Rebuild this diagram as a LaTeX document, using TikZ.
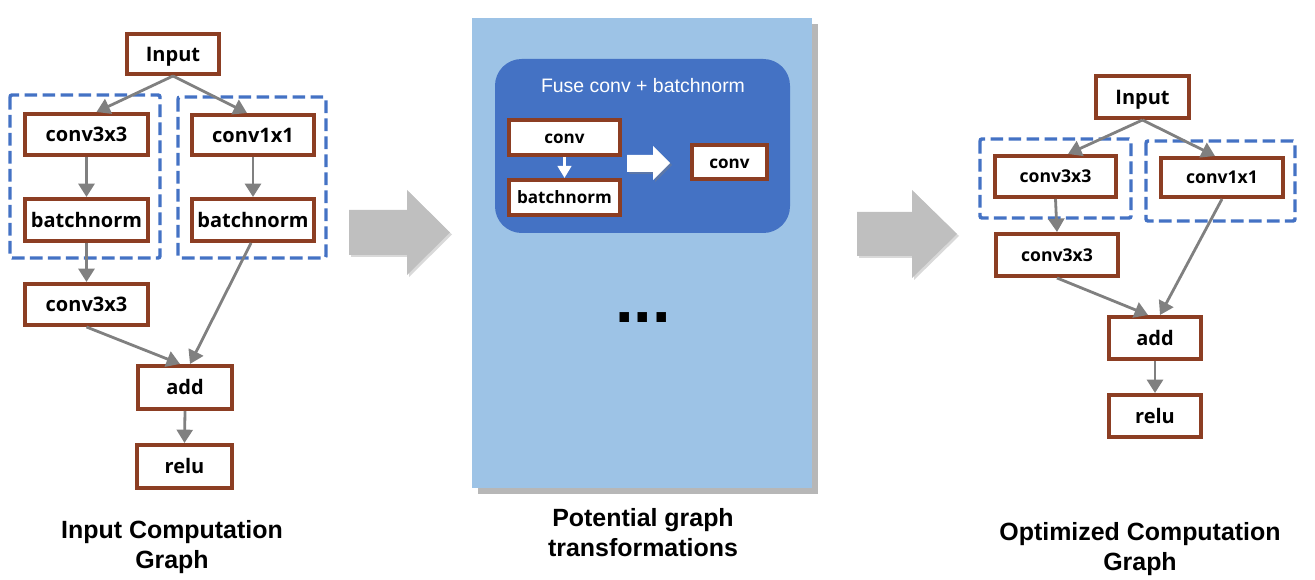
\documentclass[tikz,border=0pt]{standalone}
\usepackage{fontspec}
\setmainfont{Liberation Sans}
\newfontfamily\lblf{Open Sans}
\usetikzlibrary{arrows.meta,shadows}
\definecolor{brownc}{RGB}{140,62,35}
\definecolor{dashblue}{RGB}{68,114,196}
\definecolor{innerblue}{RGB}{68,114,196}
\definecolor{panelblue}{RGB}{157,195,230}
\definecolor{edgegray}{RGB}{128,128,128}
\definecolor{blockgray}{RGB}{191,191,191}
\newcommand\pbox[7]{\node[#7, minimum width={(#4-#2-4)*0.75pt}, minimum height={(#5-#3-4)*0.75pt}] (#1) at ({(#2+#4)/2},{(#3+#5)/2}) {#6};}
\begin{document}
\begin{tikzpicture}[x=0.75pt,y=-0.75pt,
  box/.style={draw=brownc, line width=3pt, fill=white, inner sep=0pt, text height=10.7pt, text depth=0pt, font=\lblf\bfseries\fontsize{15}{18}\selectfont},
  boxr/.style={box, text height=9.4pt, font=\lblf\bfseries\fontsize{13.2}{16}\selectfont},
  boxm/.style={box, text height=9.1pt, font=\lblf\bfseries\fontsize{12.8}{15}\selectfont},
  grp/.style={draw=dashblue, line width=2.6pt, dash pattern=on 9.5pt off 4pt, rounded corners=1.5pt},
  edge/.style={draw=edgegray, line width=2.1pt, -{Triangle[length=10pt,width=12pt]}},
  wedge/.style={draw=white, line width=2.4pt, -{Triangle[length=9pt,width=10pt]}},
  captext/.style={font=\bfseries\fontsize{18.7}{22.5}\selectfont, align=center, inner sep=0pt},
  blockarrow/.style={fill=blockgray, drop shadow={shadow xshift=1.5pt, shadow yshift=-1.5pt, opacity=0.3}}
]
\useasboundingbox (0,0) rectangle (1315,580);

% ---------- Left graph ----------
\draw[grp] (10,95) rectangle (160,258);
\draw[grp] (178,97) rectangle (326,258);
\pbox{lin}{125}{32}{221}{76}{Input}{box}
\pbox{lc3}{23}{112}{150}{157}{conv3x3}{box}
\pbox{lbn1}{23}{197}{150}{243}{batchnorm}{box}
\pbox{lc1}{190}{113}{316}{157}{conv1x1}{box}
\pbox{lbn2}{190}{197}{316}{243}{batchnorm}{box}
\pbox{lc3b}{23}{282}{150}{327}{conv3x3}{box}
\pbox{ladd}{136}{364}{234}{411}{add}{box}
\pbox{lrelu}{135}{443}{234}{490}{relu}{box}
\draw[edge] (lin.south) -- ([xshift=7.5pt]lc3.north);
\draw[edge] (lin.south) -- ([xshift=-4.5pt]lc1.north);
\draw[edge] (lc3.south) -- (lbn1.north);
\draw[edge] (lc1.south) -- (lbn2.north);
\draw[edge] (lbn1.south) -- (lc3b.north);
\draw[edge] (lc3b.south) -- ([xshift=-3.75pt]ladd.north);
\draw[edge] ([xshift=-1.5pt]lbn2.south) -- ([xshift=3.75pt]ladd.north);
\draw[edge] (ladd.south) -- (lrelu.north);
\node[captext] (lcap) at (172,547.5) {Input Computation\\Graph};

% ---------- Block arrows ----------
\path[blockarrow] (349,210) -- (407,210) -- (407,190) -- (450,232.5) -- (407,275) -- (407,255) -- (349,255) -- cycle;
\path[blockarrow] (857,212) -- (912,212) -- (912,190) -- (957,234) -- (912,278) -- (912,256) -- (857,256) -- cycle;

% ---------- Middle panel ----------
\path[fill=panelblue, drop shadow={shadow xshift=4.5pt, shadow yshift=-4.5pt, opacity=0.4, fill=black!70}] (472,18) rectangle (812,488);
\path[fill=innerblue, rounded corners=20pt] (495,59) rectangle (790,233);
\node[text=white, font=\fontsize{14.6}{17}\selectfont, inner sep=0pt] (fuse) at (643,86) {Fuse conv + batchnorm};
\pbox{mconv}{507}{118}{622}{157}{conv}{boxm}
\pbox{mbn}{507}{178}{622}{217}{batchnorm}{boxm}
\pbox{mconv2}{690}{143}{769}{181}{conv}{boxm}
\draw[wedge] (mconv.south) -- (mbn.north);
\path[fill=white, drop shadow={shadow xshift=1.5pt, shadow yshift=-1.5pt, opacity=0.4}] (627,155) -- (653,155) -- (653,146) -- (670,163) -- (653,180) -- (653,172) -- (627,172) -- cycle;
\node[font=\bfseries\fontsize{50}{55}\selectfont, inner sep=0pt, anchor=base] (dots) at (643,323) {...};
\node[captext] (mcap) at (643,533) {Potential graph\\transformations};

% ---------- Right graph ----------
\draw[grp] (980,139) rectangle (1131,218);
\draw[grp] (1146,141) rectangle (1295,221);
\pbox{rin}{1094}{74}{1191}{120}{Input}{box}
\pbox{rc3}{993}{154}{1118}{199}{conv3x3}{boxr}
\pbox{rc1}{1159}{156}{1285}{199}{conv1x1}{boxr}
\pbox{rc3b}{994}{232}{1120}{278}{conv3x3}{boxr}
\pbox{radd}{1107}{315}{1203}{361}{add}{box}
\pbox{rrelu}{1107}{393}{1203}{439}{relu}{box}
\draw[edge] (rin.south) -- ([xshift=9.4pt]rc3.north);
\draw[edge] (rin.south) -- ([xshift=-5.25pt]rc1.north);
\draw[edge] (rc3.south) -- (rc3b.north);
\draw[edge] (rc1.south) -- ([xshift=3.75pt]radd.north);
\draw[edge] (rc3b.south) -- ([xshift=-5.25pt]radd.north);
\draw[edge] (radd.south) -- (rrelu.north);
\node[captext] (rcap) at (1140,549) {Optimized Computation\\Graph};
\end{tikzpicture}
\end{document}
